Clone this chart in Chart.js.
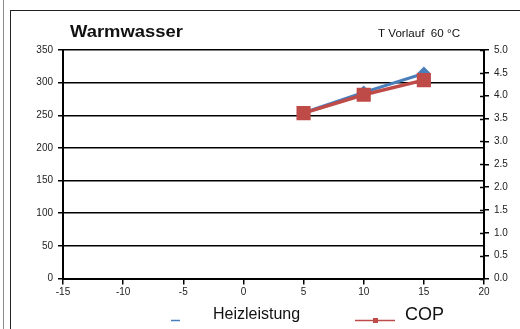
<!DOCTYPE html>
<html>
<head>
<meta charset="utf-8">
<script src="https://cdn.jsdelivr.net/npm/chart.js@4/dist/chart.umd.min.js"></script>
<style>
  html, body { margin: 0; padding: 0; background: #fff; overflow: hidden; }
  #wrap { position: relative; width: 520px; height: 329px; }
  #edge { position: absolute; left: 3px; top: 0; width: 1px; height: 329px; background: #8a8a8a; }
  #frame { position: absolute; left: 10px; top: 10px; width: 600px; height: 400px; border: 1.5px solid #222; box-sizing: border-box; }
  canvas { position: absolute; left: 0; top: 0; }
</style>
</head>
<body>
<div id="wrap">
  <div id="edge"></div>
  <div id="frame"></div>
  <canvas id="c" width="520" height="329"></canvas>
</div>
<script>
// Außentemperatur [°C]
const outdoorTemps = [5, 10, 15];
// Heizleistung (linke Achse)
const heatOutput = [254, 285, 314];
// Leistungszahl COP (rechte Achse)
const copValues = [3.62, 4.02, 4.34];

const xTicks = [-15, -10, -5, 0, 5, 10, 15, 20];
const leftTicks = [0, 50, 100, 150, 200, 250, 300, 350];
const rightTicks = [0, 0.5, 1, 1.5, 2, 2.5, 3, 3.5, 4, 4.5, 5];

const chartTitle = 'Warmwasser';
const chartNote = 'T Vorlauf  60 °C';
const seriesNames = ['Heizleistung', 'COP'];

const BLUE = '#4a7ebb';
const RED = '#be4b48';
const FONT = '"Liberation Sans", Arial, sans-serif';
const TICKFONT = { family: FONT, size: 10 };

const toPoints = (xs, ys) => xs.map((x, i) => ({ x: x, y: ys[i] }));

// Text, leicht in die Breite gezogen
function wideText(ctx, text, x, y, font, stretch) {
  ctx.save();
  ctx.font = font;
  ctx.translate(x, y);
  ctx.scale(stretch, 1);
  ctx.fillText(text, 0, 0);
  ctx.restore();
}

// Titel, Hinweis, Legende und innere Teilstriche der rechten Achse
const decorations = {
  id: 'decorations',
  afterDraw(chart) {
    const ctx = chart.ctx;
    ctx.save();
    ctx.fillStyle = '#111';
    ctx.textBaseline = 'alphabetic';
    ctx.textAlign = 'left';
    wideText(ctx, chartTitle, 70, 37, 'bold 16px ' + FONT, 1.15);
    wideText(ctx, chartNote, 378, 36.5, '10px ' + FONT, 1.16);

    // innere Teilstriche rechts
    const y2 = chart.scales.y2;
    ctx.strokeStyle = '#000';
    ctx.lineWidth = 1.5;
    rightTicks.forEach(v => {
      const py = Math.round(y2.getPixelForValue(v)) + 0.5;
      ctx.beginPath();
      ctx.moveTo(y2.left - 4, py);
      ctx.lineTo(y2.left, py);
      ctx.stroke();
    });

    // Legende
    ctx.strokeStyle = BLUE;
    ctx.lineWidth = 1.5;
    ctx.beginPath();
    ctx.moveTo(171, 320.5);
    ctx.lineTo(180, 320.5);
    ctx.stroke();
    ctx.fillStyle = '#111';
    ctx.font = '16px ' + FONT;
    ctx.fillText(seriesNames[0], 213, 319);

    ctx.strokeStyle = RED;
    ctx.lineWidth = 1.5;
    ctx.beginPath();
    ctx.moveTo(355, 320.5);
    ctx.lineTo(395, 320.5);
    ctx.stroke();
    ctx.fillStyle = RED;
    ctx.fillRect(373, 318, 5, 5);
    ctx.fillStyle = '#111';
    ctx.font = '18px ' + FONT;
    ctx.fillText(seriesNames[1], 405, 320);
    ctx.restore();
  }
};

new Chart(document.getElementById('c'), {
  type: 'line',
  data: {
    datasets: [
      {
        label: seriesNames[1],
        data: toPoints(outdoorTemps, copValues),
        yAxisID: 'y2',
        borderColor: RED,
        backgroundColor: RED,
        borderWidth: 3.5,
        pointStyle: 'rect',
        pointRadius: 10,
        pointBorderWidth: 0,
        tension: 0,
        order: 0
      },
      {
        label: seriesNames[0],
        data: toPoints(outdoorTemps, heatOutput),
        yAxisID: 'y',
        borderColor: BLUE,
        backgroundColor: BLUE,
        borderWidth: 3,
        pointStyle: 'rectRot',
        pointRadius: 7,
        pointBorderWidth: 0,
        tension: 0,
        order: 1
      }
    ]
  },
  options: {
    responsive: false,
    animation: false,
    devicePixelRatio: 1,
    layout: { padding: { top: 50, left: 0, right: 0, bottom: 0 } },
    plugins: { legend: { display: false }, title: { display: false }, tooltip: { enabled: false } },
    scales: {
      x: {
        type: 'linear',
        min: xTicks[0],
        max: xTicks[xTicks.length - 1],
        afterBuildTicks: s => { s.ticks = xTicks.map(v => ({ value: v })); },
        afterFit: s => { s.height = 50.5; },
        border: { color: '#000', width: 2 },
        grid: { drawOnChartArea: false, drawTicks: true, tickLength: 6, color: '#000', lineWidth: 1.5 },
        ticks: { color: '#222', font: TICKFONT, padding: 2, maxRotation: 0 }
      },
      y: {
        position: 'left',
        min: leftTicks[0],
        max: leftTicks[leftTicks.length - 1],
        afterBuildTicks: s => { s.ticks = leftTicks.map(v => ({ value: v })); },
        afterFit: s => { s.width = 63; },
        border: { color: '#000', width: 2 },
        grid: { color: '#000', lineWidth: 1.5, tickLength: 5 },
        ticks: { color: '#222', font: TICKFONT, padding: 5 }
      },
      y2: {
        position: 'right',
        min: rightTicks[0],
        max: rightTicks[rightTicks.length - 1],
        afterBuildTicks: s => { s.ticks = rightTicks.map(v => ({ value: v })); },
        afterFit: s => { s.width = 36; },
        border: { color: '#000', width: 2 },
        grid: { drawOnChartArea: false, color: '#000', lineWidth: 1.5, tickLength: 5 },
        ticks: { color: '#222', font: TICKFONT, padding: 5, callback: v => Number(v).toFixed(1) }
      }
    }
  },
  plugins: [decorations]
});
</script>
</body>
</html>
